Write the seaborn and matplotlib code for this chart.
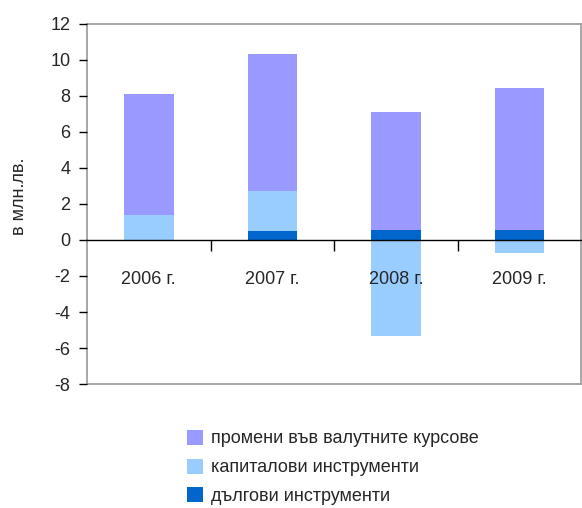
import pandas as pd
import matplotlib.pyplot as plt
import seaborn as sns
from matplotlib.patches import Patch

sns.set_theme(style="white")
plt.rcParams['font.family'] = ['Liberation Sans', 'DejaVu Sans']
plt.rcParams['axes.unicode_minus'] = False

# values (mln. BGN)
years = ['2006 г.', '2007 г.', '2008 г.', '2009 г.']
debt = [0.0, 0.52, 0.56, 0.56]
equity = [1.39, 2.20, -5.31, -0.70]
fx = [6.72, 7.61, 6.55, 7.88]

labels = ['промени във валутните курсове', 'капиталови инструменти', 'дългови инструменти']
colors = ['#9999FF', '#99CCFF', '#0066CC']

df = pd.DataFrame({'year': years, 'debt': debt, 'equity': equity, 'fx': fx})
# Excel-style stacking: positives on positives, negatives below zero
df['lvl1'] = df['debt'].clip(lower=0)
df['lvl2'] = df['lvl1'] + df['equity'].clip(lower=0)
df['lvl3'] = df['lvl2'] + df['fx']
df['neg'] = df['equity'].clip(upper=0)

fig, ax = plt.subplots(figsize=(5.82, 5.08), dpi=100)
fig.subplots_adjust(left=0.1495, right=0.999, bottom=0.244, top=0.953)

sns.barplot(data=df, x='year', y='lvl3', color=colors[0], width=0.4, saturation=1, ax=ax)
sns.barplot(data=df, x='year', y='lvl2', color=colors[1], width=0.4, saturation=1, ax=ax)
sns.barplot(data=df, x='year', y='lvl1', color=colors[2], width=0.4, saturation=1, ax=ax)
sns.barplot(data=df, x='year', y='neg', color=colors[1], width=0.4, saturation=1, ax=ax)
for p in ax.patches:
    p.set_linewidth(0)
ax.set_axisbelow(False)

ax.set_xlim(-0.5, 3.5)
ax.set_ylim(-8, 12)
ax.set_yticks(range(-8, 13, 2))
ax.tick_params(axis='y', direction='out', length=6, width=1, color='black',
               labelsize=13, pad=6, left=True)

# category axis sits on the zero line
ax.spines['bottom'].set_position(('data', 0))
ax.spines['bottom'].set_color('black')
ax.spines['bottom'].set_linewidth(1)
for s in ['left', 'top', 'right']:
    ax.spines[s].set_color('#A0A0A0')
    ax.spines[s].set_linewidth(1.3)
ax.plot([0, 1], [0, 0], transform=ax.transAxes, color='#A0A0A0', lw=1.3, clip_on=False)

ax.set_xticks([0.5, 1.5, 2.5], labels=['', '', ''])
ax.set_xticks(range(len(years)), labels=years, minor=True)
ax.tick_params(axis='x', which='major', direction='out', length=8, width=1,
               color='black', bottom=True)
ax.tick_params(axis='x', which='minor', length=0, labelsize=13, pad=22)

ax.set_xlabel('')
ax.set_ylabel('в млн.лв.', fontsize=13)
ax.yaxis.set_label_coords(-0.12, 0.52)

handles = [Patch(facecolor=c, edgecolor='none') for c in colors]
fig.legend(handles, labels, loc='upper left', bbox_to_anchor=(0.306, 0.172),
           frameon=False, fontsize=13, handlelength=0.9, handleheight=0.9,
           handletextpad=0.4, labelspacing=0.62, borderpad=0)

fig.savefig('out.png', dpi=100)
